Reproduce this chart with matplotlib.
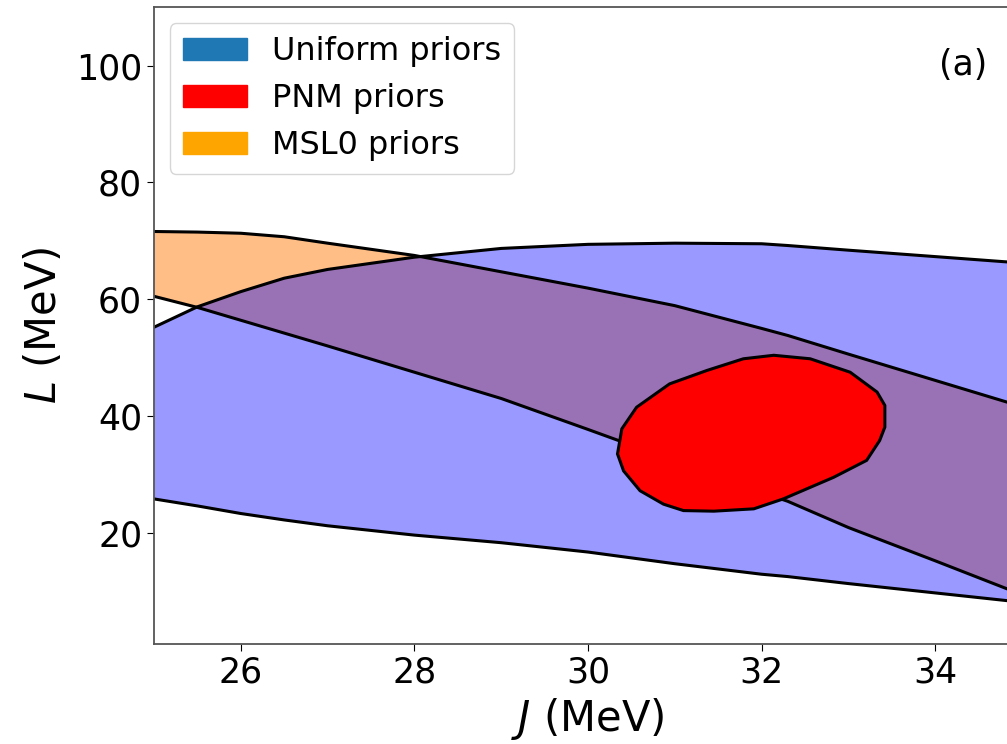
import matplotlib
matplotlib.use("Agg")
import matplotlib.pyplot as plt
import matplotlib.patches as mpatches

# J grid (MeV) shared by the band boundaries
J = [25, 25.5, 26, 26.5, 27, 28, 29, 30, 31, 32, 32.3, 33, 34, 35]

# uniform priors band
uni_upper = [55.2, 58.7, 61.3, 63.6, 65.1, 67.2, 68.7, 69.4, 69.6, 69.5, 69.2, 68.4, 67.3, 66.2]
uni_lower = [25.8, 24.6, 23.3, 22.2, 21.2, 19.6, 18.3, 16.7, 14.7, 12.9, 12.5, 11.3, 9.7, 8.1]

# MSL0 priors band
msl_upper = [71.6, 71.5, 71.3, 70.7, 69.6, 67.5, 64.7, 61.9, 58.9, 55.0, 53.8, 50.6, 46.1, 41.6]
msl_lower = [60.5, 58.6, 56.4, 54.2, 52.0, 47.5, 43.0, 37.7, 32.3, 26.9, 25.4, 20.9, 15.2, 9.4]

# PNM priors contour (closed)
pnm_J = [30.34, 30.39, 30.56, 30.94, 31.37, 31.79, 32.14, 32.56, 33.02, 33.33, 33.42,
         33.42, 33.36, 33.21, 32.83, 32.25, 31.91, 31.45, 31.10, 30.87, 30.60, 30.41, 30.34]
pnm_L = [33.5, 37.8, 41.5, 45.5, 47.8, 49.8, 50.4, 49.8, 47.5, 44.1, 41.8,
         38.1, 35.8, 32.4, 29.5, 25.8, 24.1, 23.7, 23.8, 24.9, 27.2, 30.6, 33.5]

labels = ["Uniform priors", "PNM priors", "MSL0 priors"]

fig = plt.figure(figsize=(10.07, 7.44), dpi=100)
ax = fig.add_axes([0.1529, 0.1348, 0.862, 0.8554])

lw = 2.2
ax.fill_between(J, msl_lower, msl_upper, color="tab:orange", alpha=0.5, lw=0)
ax.fill_between(J, uni_lower, uni_upper, color="blue", alpha=0.4, lw=0)
for curve in (msl_upper, msl_lower, uni_upper, uni_lower):
    ax.plot(J, curve, color="black", lw=lw)
ax.fill(pnm_J, pnm_L, facecolor="red", edgecolor="black", lw=lw, zorder=3)

ax.set_xlim(25, 35)
ax.set_ylim(1, 110)
ax.set_xlabel("$J$ (MeV)", fontsize=30, labelpad=5)
ax.set_ylabel("$L$ (MeV)", fontsize=30, labelpad=8)
ax.tick_params(labelsize=25, length=5)
for s in ax.spines.values():
    s.set_color("#555555")
    s.set_linewidth(1.3)

ax.text(0.932, 0.91, "(a)", transform=ax.transAxes, fontsize=25, ha="center", va="center")

handles = [mpatches.Patch(color="tab:blue"),
           mpatches.Patch(color="red"),
           mpatches.Patch(color="orange")]
ax.legend(handles, labels, loc="upper left", fontsize=23)

fig.savefig("out.png", dpi=100)
